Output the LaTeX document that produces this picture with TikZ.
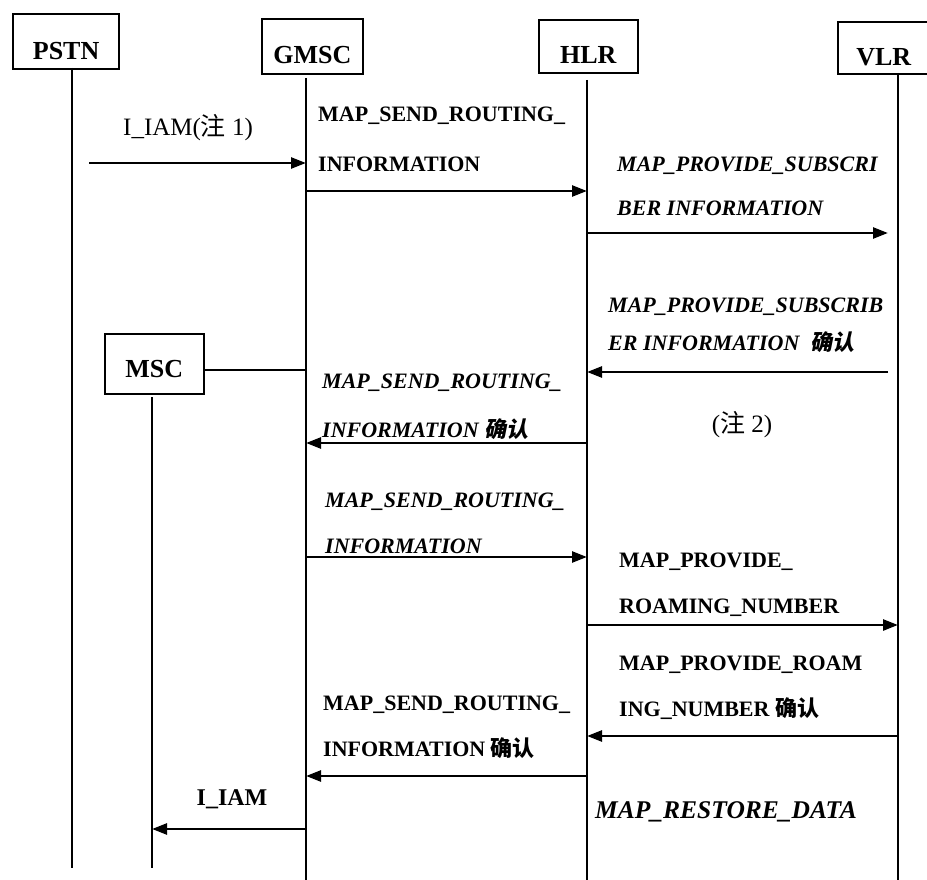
\documentclass[tikz,border=0pt]{standalone}
\usepackage{fontspec}
\setmainfont{Liberation Serif}
\newfontfamily\cjk{Noto Sans CJK SC}
\newfontfamily\cjkit[FakeSlant=0.2]{Noto Sans CJK SC}
\usetikzlibrary{arrows.meta,calc}
\newcommand\ok{{\cjk 确认}}
\newcommand\okit{{\cjkit 确认}}
\begin{document}
\begin{tikzpicture}[x=1pt,y=-1pt,
  ent/.style={draw, line width=1.6pt, inner sep=0pt, text height=45pt,
    text depth=10pt, anchor=north west, font=\fontsize{26}{30}\selectfont\bfseries},
  life/.style={line width=1.8pt},
  msg/.style={line width=2.6pt, -{Triangle[length=15pt,width=11pt]}},
  lbl/.style={anchor=base west, inner sep=0pt, font=\fontsize{22}{26}\selectfont\bfseries},
  lblit/.style={anchor=base west, inner sep=0pt, font=\fontsize{22}{26}\selectfont\bfseries\itshape},
  note/.style={anchor=base, inner sep=0pt, font=\fontsize{25}{28}\selectfont}
]
\useasboundingbox[fill=white] (0,0) rectangle (927,880);

% entities
\node[ent, line width=2.2pt, minimum width=106pt] (pstn) at (12,13) {PSTN};
\node[ent, minimum width=101pt] (gmsc) at (261,18) {GMSC};
\node[ent, minimum width=99pt, text height=44pt, text depth=9pt] (hlr) at (538,19) {HLR};
\node[ent, minimum width=92pt, text height=44pt, text depth=8pt] (vlr) at (837,21) {VLR};
\node[ent, minimum width=99pt, text height=44pt, text depth=16pt] (msc) at (104,333) {MSC};

% lifelines
\coordinate (pstnT) at (72,68);   \coordinate (pstnB) at (72,868);
\coordinate (gmscT) at (306,78);  \coordinate (gmscB) at (306,880);
\coordinate (hlrT)  at (587,80);  \coordinate (hlrB)  at (587,880);
\coordinate (vlrT)  at (898,73);  \coordinate (vlrB)  at (898,880);
\coordinate (mscT)  at (152,397); \coordinate (mscB)  at (152,868);
\draw[life, line width=2.6pt] (pstnT) -- (pstnB);
\draw[life] (gmscT) -- (gmscB);
\draw[life] (hlrT) -- (hlrB);
\draw[life] (vlrT) -- (vlrB);
\draw[life] (mscT) -- (mscB);

% message rows
\coordinate (r1) at (0,163);
\coordinate (r2) at (0,191);
\coordinate (r3) at (0,233);
\coordinate (rm) at (0,370);
\coordinate (r4) at (0,372);
\coordinate (r5) at (0,443);
\coordinate (r6) at (0,557);
\coordinate (r7) at (0,625);
\coordinate (r8) at (0,736);
\coordinate (r9) at (0,776);
\coordinate (r10) at (0,829);

% MSC attached to GMSC
\draw[line width=1.5pt] (msc.east |- rm) -- (gmscT |- rm);

% messages
\draw[msg] ($(pstnT |- r1)+(17,0)$) -- (gmscT |- r1);
\node[note, anchor=base west] (t1) at (123,136) {I\_IAM({\cjk 注}\ 1)};

\draw[msg] (gmscT |- r2) -- (hlrT |- r2);
\node[lbl] (t2a) at (318,122) {MAP\_SEND\_ROUTING\_};
\node[lbl] (t2b) at (318,172) {INFORMATION};

\draw[msg] (hlrT |- r3) -- ($(vlrT |- r3)+(-10,0)$);
\node[lblit] (t3a) at (617,172) {MAP\_PROVIDE\_SUBSCRI};
\node[lblit] (t3b) at (617,215) {BER INFORMATION};

\draw[msg] ($(vlrT |- r4)+(-10,0)$) -- (hlrT |- r4);
\node[lblit] (t4a) at (608,312) {MAP\_PROVIDE\_SUBSCRIB};
\node[lblit] (t4b) at (608,350) {ER INFORMATION\ \ \okit};

\draw[msg] (hlrT |- r5) -- (gmscT |- r5);
\node[lblit] (t5a) at (322,388) {MAP\_SEND\_ROUTING\_};
\node[lblit] (t5b) at (322,437) {INFORMATION \okit};
\node[note] (n2) at (742,432) {({\cjk 注}\ 2)};

\draw[msg] (gmscT |- r6) -- (hlrT |- r6);
\node[lblit] (t6a) at (325,507) {MAP\_SEND\_ROUTING\_};
\node[lblit] (t6b) at (325,553) {INFORMATION};

\draw[msg] (hlrT |- r7) -- (vlrT |- r7);
\node[lbl] (t7a) at (619,567) {MAP\_PROVIDE\_};
\node[lbl] (t7b) at (619,613) {ROAMING\_NUMBER};

\draw[msg] (vlrT |- r8) -- (hlrT |- r8);
\node[lbl] (t8a) at (619,670) {MAP\_PROVIDE\_ROAM};
\node[lbl] (t8b) at (619,716) {ING\_NUMBER \ok};

\draw[msg] (hlrT |- r9) -- (gmscT |- r9);
\node[lbl] (t9a) at (323,710) {MAP\_SEND\_ROUTING\_};
\node[lbl] (t9b) at (323,756) {INFORMATION \ok};

\draw[msg] (gmscT |- r10) -- (mscT |- r10);
\node[note, font=\fontsize{24}{28}\selectfont\bfseries] (t10) at (232,805) {I\_IAM};

\node[lblit, font=\fontsize{25.5}{28}\selectfont\bfseries\itshape] (t11) at (595,818) {MAP\_RESTORE\_DATA};
\end{tikzpicture}
\end{document}
